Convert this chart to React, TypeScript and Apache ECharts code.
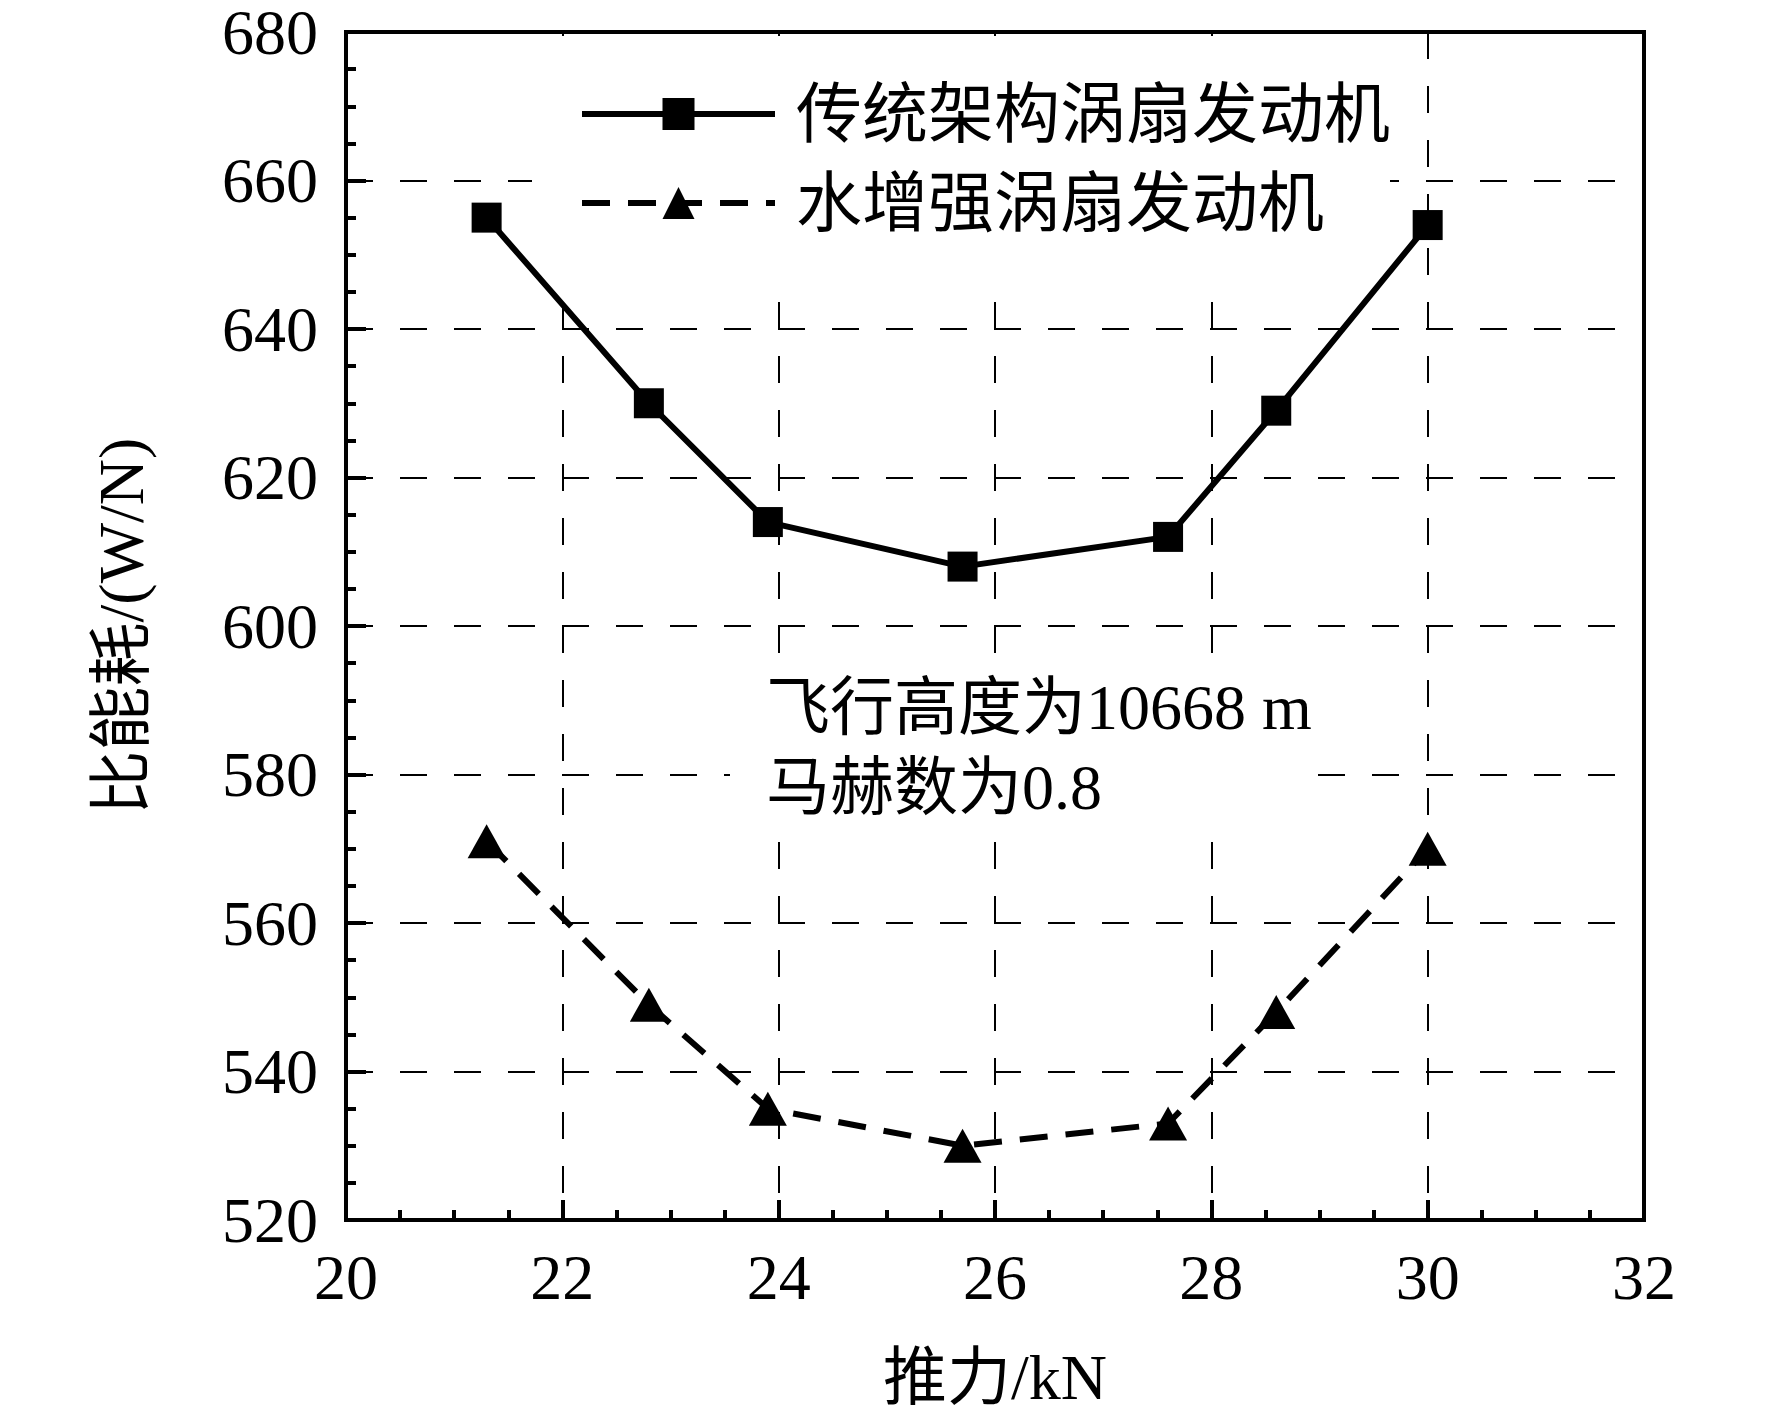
import React, { useEffect, useRef } from "react";
import * as echarts from "echarts";

const thrust = [21.3, 22.8, 23.9, 25.7, 27.6, 28.6, 30.0];
const conventional = [655, 630, 614, 608, 612, 629, 654];
const waterEnhanced = [571, 549, 535, 530, 533, 548, 570];
const seriesNames = ["传统架构涡扇发动机", "水增强涡扇发动机"];
const xName = "推力/kN";
const yName = "比能耗/(W/N)";
const noteText = "飞行高度为10668 m\n马赫数为0.8";

const FONT = "'Liberation Serif', 'Times New Roman', 'Noto Sans CJK SC', serif";

export default function App() {
  const ref = useRef<HTMLDivElement>(null);
  useEffect(() => {
    if (!ref.current) return;
    const chart = echarts.init(ref.current, null, { renderer: "svg" });
    const axisCommon = {
      nameTextStyle: { fontSize: 64, fontFamily: FONT, color: "#000" },
      axisLine: { show: true, lineStyle: { color: "#000", width: 4 } },
      axisTick: { show: true, inside: true, length: 20, lineStyle: { color: "#000", width: 4 } },
      minorTick: { show: true, splitNumber: 4, length: 10, lineStyle: { color: "#000", width: 4 } },
      splitLine: { show: true, lineStyle: { color: "#000", width: 2, type: [27, 27] } },
    };
    chart.setOption({
      animation: false,
      backgroundColor: "#fff",
      grid: {
        left: 346,
        right: 128,
        top: 32,
        bottom: 201,
        show: true,
        borderColor: "#000",
        borderWidth: 4,
        backgroundColor: "transparent",
      },
      xAxis: {
        ...axisCommon,
        type: "value",
        min: 20,
        max: 32,
        interval: 2,
        name: xName,
        nameLocation: "middle",
        nameGap: 125,
        axisLabel: { fontSize: 64, lineHeight: 58, fontFamily: FONT, color: "#000", margin: 28 },
      },
      yAxis: {
        ...axisCommon,
        type: "value",
        min: 520,
        max: 680,
        interval: 20,
        name: yName,
        nameLocation: "middle",
        nameGap: 193,
        axisLabel: { fontSize: 64, lineHeight: 50, fontFamily: FONT, color: "#000", margin: 28 },
      },
      legend: {
        orient: "vertical",
        left: 532,
        top: 36,
        z: 3,
        padding: [45, 0, 54, 47],
        itemWidth: 193,
        itemHeight: 40,
        itemGap: 23,
        backgroundColor: "#fff",
        lineStyle: { width: 6 },
        textStyle: {
          fontSize: 66,
          lineHeight: 66,
          fontFamily: FONT,
          color: "#000",
          padding: [0, 0, 0, 16],
        },
        data: seriesNames,
      },
      graphic: [
        {
          type: "text",
          x: 730,
          y: 665,
          z: 10,
          style: {
            text: noteText,
            fontSize: 64,
            lineHeight: 80,
            fontFamily: FONT,
            fill: "#000",
            backgroundColor: "#fff",
            padding: [2, 0, 0, 36],
          },
        },
      ],
      series: [
        {
          name: seriesNames[0],
          type: "line",
          z: 6,
          data: thrust.map((x, i) => [x, conventional[i]]),
          symbol: "rect",
          symbolSize: 30,
          lineStyle: { color: "#000", width: 6 },
          itemStyle: { color: "#000" },
        },
        {
          name: seriesNames[1],
          type: "line",
          z: 6,
          data: thrust.map((x, i) => [x, waterEnhanced[i]]),
          symbol: "triangle",
          symbolSize: [38, 34],
          lineStyle: { color: "#000", width: 6, type: [28, 18] },
          itemStyle: { color: "#000" },
        },
      ],
    });
    return () => chart.dispose();
  }, []);
  return (
    <div
      ref={ref}
      style={{ position: "fixed", left: 0, top: 0, width: 1772, height: 1421, background: "#fff" }}
    />
  );
}
